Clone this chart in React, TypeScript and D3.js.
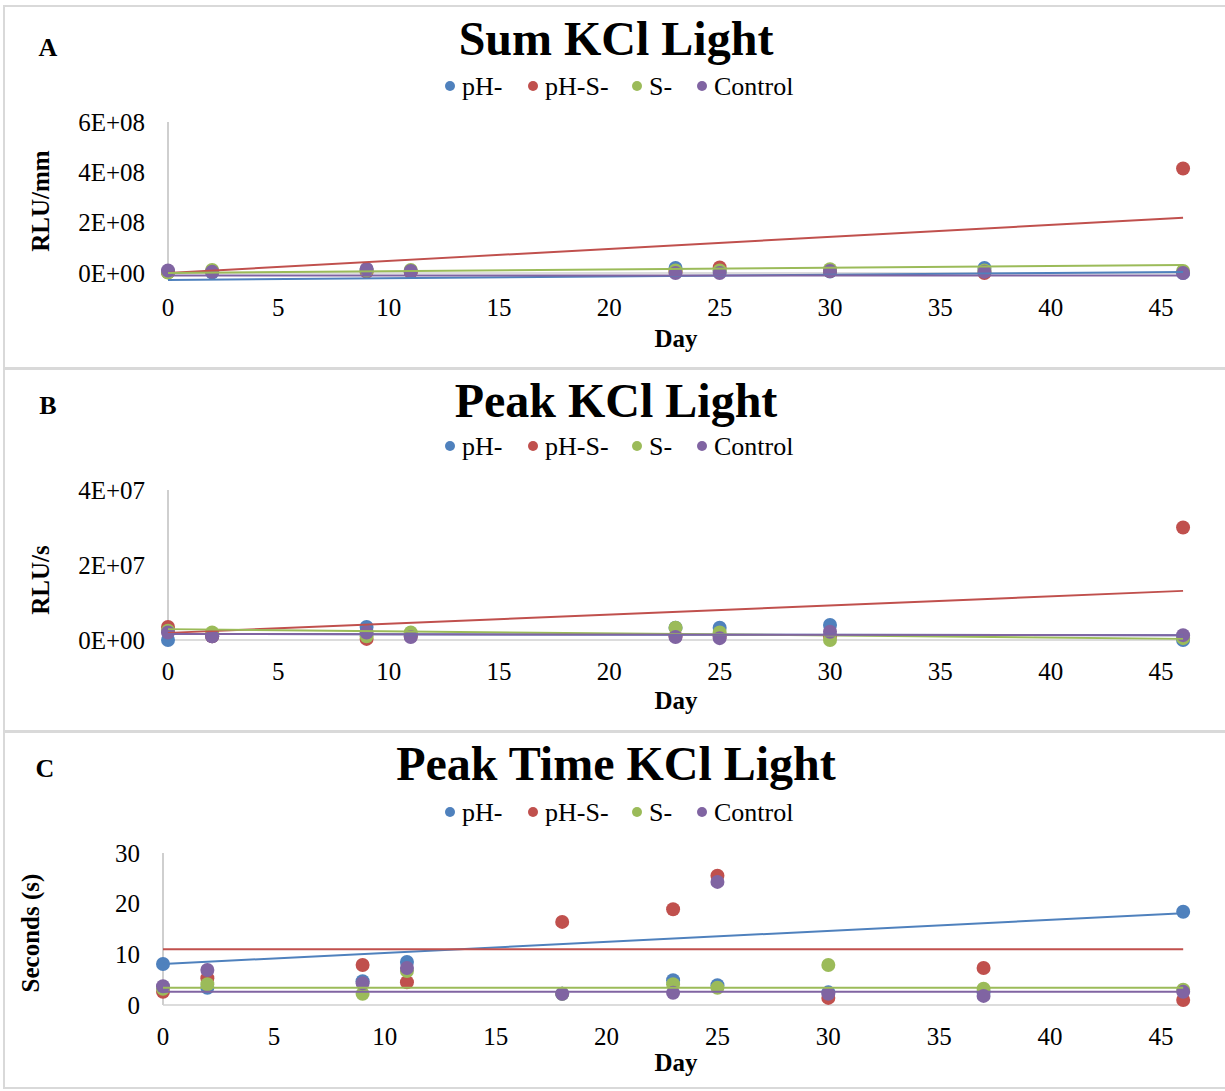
import React from "react";
import * as d3 from "d3";

// ---------- data ----------
const seriesNames = ["pH-", "pH-S-", "S-", "Control"];
const seriesColors = ["#4F81BD", "#C0504D", "#9BBB59", "#8064A2"];
const xTicks = [0, 5, 10, 15, 20, 25, 30, 35, 40, 45];

// Panel A: Sum KCl Light (RLU/mm)
const sumDays = [0, 2, 9, 11, 23, 25, 30, 37, 46];
const sumPH = [0.04e8, 0.02e8, 0.1e8, 0.05e8, 0.2e8, 0.08e8, 0.06e8, 0.2e8, 0.0];
const sumPHS = [0.03e8, 0.06e8, 0.05e8, 0.04e8, 0.06e8, 0.22e8, 0.08e8, 0.0, 4.15e8];
const sumS = [0.02e8, 0.12e8, 0.1e8, 0.12e8, 0.1e8, 0.1e8, 0.15e8, 0.1e8, 0.08e8];
const sumControl = [0.1e8, 0.05e8, 0.16e8, 0.08e8, 0.0, 0.0, 0.08e8, 0.05e8, 0.0];
const sumTrendStart = [-0.28e8, 0.0, 0.0, -0.1e8];
const sumTrendEnd = [0.04e8, 2.2e8, 0.32e8, -0.1e8];
const sumYTicks = [0, 2e8, 4e8, 6e8];
const sumYLabels = ["0E+00", "2E+08", "4E+08", "6E+08"];

// Panel B: Peak KCl Light (RLU/s)
const peakDays = [0, 2, 9, 11, 23, 25, 30, 46];
const peakPH = [0.0, 0.1e7, 0.35e7, 0.15e7, 0.33e7, 0.33e7, 0.4e7, 0.0];
const peakPHS = [0.35e7, 0.1e7, 0.03e7, 0.1e7, 0.1e7, 0.1e7, 0.1e7, 3.0e7];
const peakS = [0.25e7, 0.2e7, 0.1e7, 0.2e7, 0.33e7, 0.2e7, 0.0, 0.05e7];
const peakControl = [0.2e7, 0.1e7, 0.2e7, 0.08e7, 0.08e7, 0.05e7, 0.22e7, 0.13e7];
const peakTrendStart = [0.16e7, 0.19e7, 0.29e7, 0.16e7];
const peakTrendEnd = [0.13e7, 1.31e7, 0.03e7, 0.13e7];
const peakYTicks = [0, 2e7, 4e7];
const peakYLabels = ["0E+00", "2E+07", "4E+07"];

// Panel C: Peak Time KCl Light (s)
const timeDays = [0, 2, 9, 11, 18, 23, 25, 30, 37, 46];
const timePH = [8.1, 3.4, 4.7, 8.5, 2.2, 4.9, 3.9, 2.5, 2.5, 18.4];
const timePHS = [2.6, 5.3, 7.9, 4.5, 16.4, 18.9, 25.5, 1.4, 7.3, 1.0];
const timeS = [3.2, 4.1, 2.2, 6.7, 2.2, 4.1, 3.4, 7.9, 3.2, 3.0];
const timeControl = [3.7, 6.9, 4.3, 7.3, 2.2, 2.4, 24.3, 2.2, 1.8, 2.6];
const timeTrendStart = [8.1, 11.0, 3.4, 2.6];
const timeTrendEnd = [18.1, 11.0, 3.4, 2.6];
const timeYTicks = [0, 10, 20, 30];
const timeYLabels = ["0", "10", "20", "30"];

const FONT = "'Liberation Serif', 'Times New Roman', serif";

type PanelProps = {
  letter: string;
  title: string;
  yTitle: string;
  top: number;
  bottom: number;
  titleY: number;
  legendY: number;
  x0: number;
  yTop: number;
  yZero: number;
  yMax: number;
  yTicks: number[];
  yLabels: string[];
  xLabelY: number;
  dayY: number;
  yTitleX: number;
  yTitleY: number;
  letterX: number;
  letterY: number;
  days: number[];
  values: number[][];
  trendStart: number[];
  trendEnd: number[];
};

function Panel(p: PanelProps) {
  const x = d3.scaleLinear().domain([0, 45]).range([p.x0, 1161]);
  const y = d3.scaleLinear().domain([0, p.yMax]).range([p.yZero, p.yTop]);
  const legendDots = [450, 533, 637, 702];
  return (
    <g>
      <rect x={4} y={p.top} width={1240} height={p.bottom - p.top} fill="#fff" stroke="#D9D9D9" strokeWidth={2} />
      <text x={p.letterX} y={p.letterY} fontFamily={FONT} fontWeight="bold" fontSize={26} textAnchor="middle" dominantBaseline="central">{p.letter}</text>
      <text x={616} y={p.titleY} fontFamily={FONT} fontWeight="bold" fontSize={48} textAnchor="middle" dominantBaseline="central">{p.title}</text>
      {seriesNames.map((n, i) => (
        <g key={n}>
          <circle cx={legendDots[i]} cy={p.legendY} r={5} fill={seriesColors[i]} />
          <text x={legendDots[i] + 12} y={p.legendY} fontFamily={FONT} fontSize={26} dominantBaseline="central">{n}</text>
        </g>
      ))}
      {/* axes */}
      <line x1={p.x0} x2={p.x0} y1={p.yTop} y2={p.yZero} stroke="#BFBFBF" strokeWidth={1.5} />
      <line x1={p.x0} x2={x(46.2)} y1={p.yZero} y2={p.yZero} stroke="#D0D0D0" strokeWidth={1.5} />
      {p.yTicks.map((t, i) => (
        <text key={t} x={p.x0 - 23} y={y(t)} fontFamily={FONT} fontSize={25} textAnchor="end" dominantBaseline="central">{p.yLabels[i]}</text>
      ))}
      {xTicks.map((t) => (
        <text key={t} x={x(t)} y={p.xLabelY} fontFamily={FONT} fontSize={25} textAnchor="middle" dominantBaseline="central">{t}</text>
      ))}
      <text x={676} y={p.dayY} fontFamily={FONT} fontWeight="bold" fontSize={25} textAnchor="middle" dominantBaseline="central">Day</text>
      <text transform={`translate(${p.yTitleX},${p.yTitleY}) rotate(-90)`} fontFamily={FONT} fontWeight="bold" fontSize={25} textAnchor="middle" dominantBaseline="central">{p.yTitle}</text>
      {/* points */}
      {p.values.map((vals, si) => (
        <g key={si}>
          {vals.map((v, di) => (
            <circle key={di} cx={x(p.days[di])} cy={y(v)} r={7} fill={seriesColors[si]} />
          ))}
        </g>
      ))}
      {/* trendlines */}
      {p.trendStart.map((s, si) => (
        <line key={si} x1={x(0)} x2={x(46)} y1={y(s)} y2={y(p.trendEnd[si])} stroke={seriesColors[si]} strokeWidth={2} />
      ))}
    </g>
  );
}

export default function App() {
  return (
    <svg width={1225} height={1091} style={{ position: "absolute", left: 0, top: 0, background: "#fff" }}>
      <rect width={1225} height={1091} fill="#fff" />
      <Panel letter="A" title="Sum KCl Light" yTitle="RLU/mm" top={6} bottom={368}
        titleY={38} legendY={86} x0={168} yTop={122} yZero={273} yMax={6e8}
        yTicks={sumYTicks} yLabels={sumYLabels} xLabelY={307} dayY={338}
        yTitleX={40} yTitleY={201} letterX={48} letterY={47}
        days={sumDays} values={[sumPH, sumPHS, sumS, sumControl]}
        trendStart={sumTrendStart} trendEnd={sumTrendEnd} />
      <Panel letter="B" title="Peak KCl Light" yTitle="RLU/s" top={369} bottom={731}
        titleY={400} legendY={446} x0={168} yTop={490} yZero={640} yMax={4e7}
        yTicks={peakYTicks} yLabels={peakYLabels} xLabelY={671} dayY={700}
        yTitleX={40} yTitleY={580} letterX={48} letterY={405}
        days={peakDays} values={[peakPH, peakPHS, peakS, peakControl]}
        trendStart={peakTrendStart} trendEnd={peakTrendEnd} />
      <Panel letter="C" title="Peak Time KCl Light" yTitle="Seconds (s)" top={732} bottom={1088}
        titleY={763} legendY={812} x0={163} yTop={853} yZero={1005} yMax={30}
        yTicks={timeYTicks} yLabels={timeYLabels} xLabelY={1036} dayY={1062}
        yTitleX={30} yTitleY={933} letterX={45} letterY={768}
        days={timeDays} values={[timePH, timePHS, timeS, timeControl]}
        trendStart={timeTrendStart} trendEnd={timeTrendEnd} />
    </svg>
  );
}
